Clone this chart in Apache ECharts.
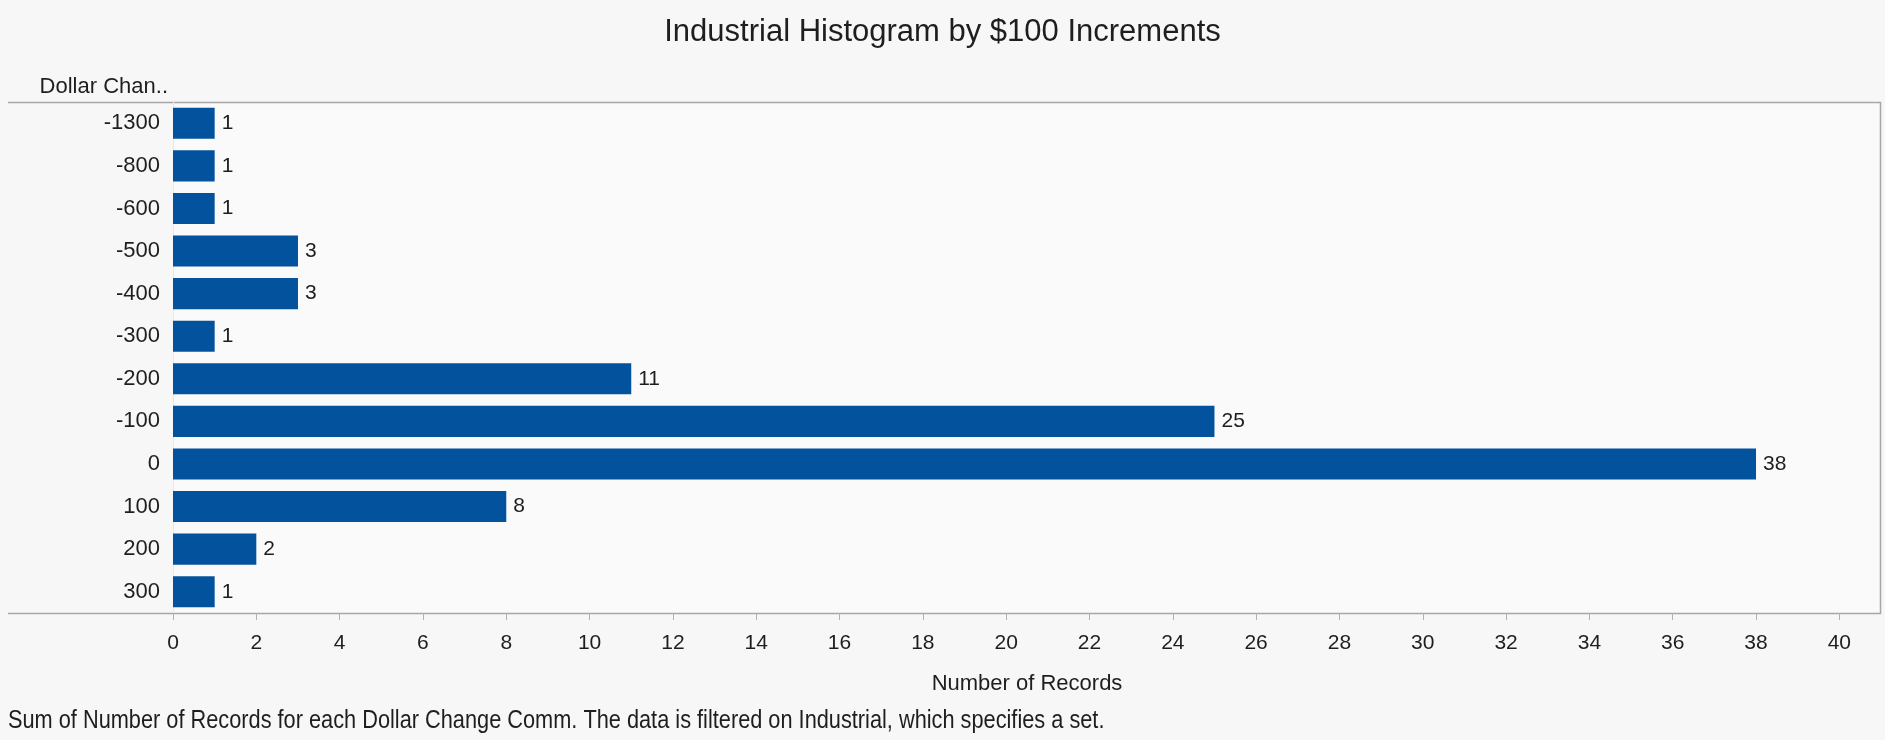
<!DOCTYPE html>
<html>
<head>
<meta charset="utf-8">
<script src="https://cdn.jsdelivr.net/npm/echarts@6/dist/echarts.min.js"></script>
<style>
  html, body { margin: 0; padding: 0; background: #f7f7f7; }
  #chart { width: 1885px; height: 740px; }
</style>
</head>
<body>
<div id="chart"></div>
<script>
// Dollar change buckets ($100 steps) and record counts
const categories = ['-1300', '-800', '-600', '-500', '-400', '-300', '-200', '-100', '0', '100', '200', '300'];
const records = [1, 1, 1, 3, 3, 1, 11, 25, 38, 8, 2, 1];
const xTicks = [0, 2, 4, 6, 8, 10, 12, 14, 16, 18, 20, 22, 24, 26, 28, 30, 32, 34, 36, 38, 40];

const titleText = 'Industrial Histogram by $100 Increments';
const rowHeader = 'Dollar Chan..';
const xName = 'Number of Records';
const footer = 'Sum of Number of Records for each Dollar Change Comm. The data is filtered on Industrial, which specifies a set.';

const FONT = '"Liberation Sans", Arial, sans-serif';
const G = { left: 173, right: 4, top: 102, bottom: 127 };
const W = 1885, H = 740;
const frameColor = '#a6a6a6';

const chart = echarts.init(document.getElementById('chart'), null, { renderer: 'canvas' });
chart.setOption({
  backgroundColor: '#f7f7f7',
  animation: false,
  title: {
    text: titleText,
    left: 'center',
    top: 12,
    textStyle: { fontFamily: FONT, fontSize: 31, fontWeight: 'normal', color: '#1e1e1e' }
  },
  grid: { left: G.left, right: G.right, top: G.top, bottom: G.bottom, show: true,
          backgroundColor: '#fafafa', borderWidth: 0 },
  xAxis: {
    type: 'value',
    min: 0,
    max: 41,
    interval: 2,
    name: xName,
    nameLocation: 'middle',
    nameGap: 60,
    nameTextStyle: { fontFamily: FONT, fontSize: 22, color: '#1e1e1e' },
    axisLine: { show: false },
    axisTick: { show: true, customValues: xTicks, length: 7, lineStyle: { color: '#b0b0b0' } },
    axisLabel: { customValues: xTicks, margin: 20, fontFamily: FONT, fontSize: 21, color: '#1e1e1e' },
    splitLine: { show: false }
  },
  yAxis: {
    type: 'category',
    data: categories,
    inverse: true,
    axisLine: { show: true, lineStyle: { color: '#efe6dc', width: 1 } },
    axisTick: { show: false },
    axisLabel: { margin: 13, fontFamily: FONT, fontSize: 22, color: '#1e1e1e' },
    splitLine: { show: false }
  },
  series: [{
    type: 'bar',
    data: records,
    barCategoryGap: '27%',
    itemStyle: { color: '#03529e' },
    label: {
      show: true,
      position: 'right',
      distance: 7,
      fontFamily: FONT,
      fontSize: 21,
      color: '#1e1e1e'
    }
  }],
  graphic: [
    {
      type: 'polyline',
      silent: true,
      shape: { points: [[8, G.top + 0.5], [W - G.right - 0.5, G.top + 0.5], [W - G.right - 0.5, H - G.bottom + 0.5], [8, H - G.bottom + 0.5]] },
      style: { stroke: frameColor, lineWidth: 1.5, fill: null }
    },
    {
      type: 'text',
      x: 168,
      y: 87,
      style: { text: rowHeader, fontFamily: FONT, fontSize: 22, fill: '#1e1e1e', align: 'right', verticalAlign: 'middle' }
    },
    {
      type: 'text',
      x: 8,
      y: 721,
      scaleX: 0.87,
      style: { text: footer, fontFamily: FONT, fontSize: 25, fill: '#1e1e1e', align: 'left', verticalAlign: 'middle' }
    }
  ]
});
</script>
</body>
</html>
